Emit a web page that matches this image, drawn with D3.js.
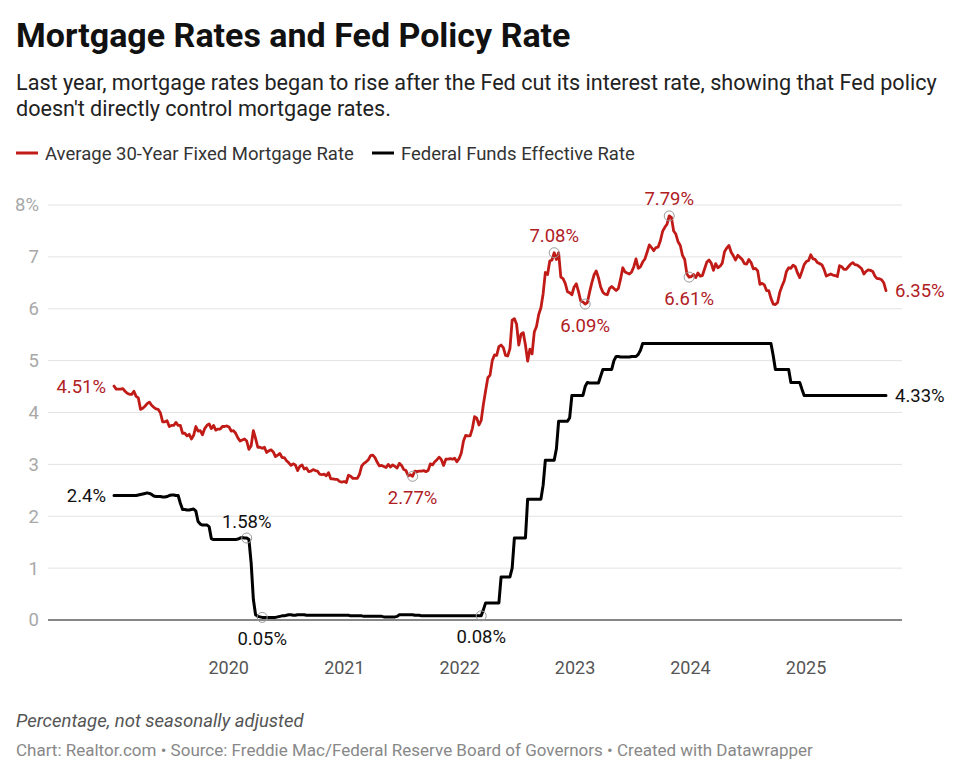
<!DOCTYPE html>
<html>
<head>
<meta charset="utf-8">
<script src="https://cdn.jsdelivr.net/npm/d3@7"></script>
<style>
  body { margin: 0; background: #fff; }
  svg { display: block; font-family: Roboto, "Noto Sans", sans-serif; }
</style>
</head>
<body>
<svg id="chart" width="960" height="776"></svg>
<script>
// weekly readings (Thursdays), first week is 2019-01-03
const START_WEEK = "2019-01-03";

// Average 30-Year Fixed Mortgage Rate, one array per year
const MORTGAGE_2019 = [4.51,4.45,4.45,4.45,4.46, 4.41,4.37,4.35,4.35, 4.41,4.31,4.28,4.06, 4.08,4.12,4.17,4.20,
  4.14,4.10,4.07,4.06,3.99, 3.82,3.82,3.84,3.73, 3.75,3.75,3.81,3.75, 3.75,3.60,3.60,3.55,3.58,
  3.49,3.56,3.73,3.64, 3.65,3.57,3.69,3.75,3.78, 3.69,3.75,3.66,3.68, 3.68,3.73,3.73,3.74];
const MORTGAGE_2020 = [3.72,3.64,3.65,3.60,3.51, 3.45,3.47,3.49,3.45, 3.29,3.36,3.65,3.50, 3.33,3.33,3.31,3.33,3.23,
  3.26,3.28,3.24,3.15, 3.18,3.21,3.13,3.13, 3.07,3.03,2.98,3.01,2.99, 2.88,2.96,2.99,2.91,
  2.93,2.86,2.87,2.90, 2.88,2.87,2.81,2.80,2.81, 2.78,2.84,2.72,2.72, 2.71,2.71,2.67,2.66,2.67];
const MORTGAGE_2021 = [2.65,2.79,2.77,2.73, 2.73,2.73,2.81,2.97, 3.02,3.05,3.09,3.17, 3.18,3.13,3.04,2.97,2.98,
  2.96,2.94,3.00,2.95, 2.99,2.96,2.93,3.02, 2.98,2.90,2.88,2.78,2.80, 2.77,2.87,2.86,2.87,
  2.87,2.88,2.86,2.88,3.01, 2.99,3.05,3.09,3.14, 3.09,2.98,3.10,3.10, 3.11,3.10,3.12,3.05,3.11];
const MORTGAGE_2022 = [3.22,3.45,3.56,3.55, 3.55,3.69,3.92,3.89, 3.76,3.85,4.16,4.42,4.67, 4.72,5.00,5.11,5.10,
  5.27,5.30,5.25,5.10, 5.09,5.23,5.78,5.81,5.70, 5.30,5.51,5.54,5.30, 4.99,5.22,5.13,5.55,
  5.66,5.89,6.02,6.29,6.70, 6.66,6.92,6.94,7.08, 6.95,7.08,6.61,6.58, 6.49,6.33,6.31,6.27,6.42];
const MORTGAGE_2023 = [6.48,6.33,6.15,6.13, 6.09,6.12,6.32,6.50, 6.65,6.73,6.60,6.42,6.32, 6.28,6.27,6.39,6.43,
  6.39,6.35,6.39,6.57, 6.79,6.71,6.69,6.67,6.71, 6.81,6.96,6.78,6.81, 6.90,6.96,7.09,7.23,7.18,
  7.12,7.18,7.19,7.31, 7.49,7.57,7.63,7.79, 7.76,7.50,7.44,7.29,7.22, 7.03,6.95,6.67,6.61];
const MORTGAGE_2024 = [6.62,6.66,6.60,6.69, 6.63,6.64,6.77,6.90,6.94, 6.88,6.74,6.87,6.79, 6.82,6.88,7.10,7.17,
  7.22,7.09,7.02,6.94,7.03, 6.99,6.95,6.87,6.86, 6.95,6.89,6.77,6.78, 6.73,6.47,6.49,6.46,6.35,
  6.35,6.20,6.09,6.08, 6.12,6.32,6.44,6.54,6.72, 6.79,6.78,6.84,6.81, 6.69,6.60,6.72,6.85];
const MORTGAGE_2025 = [6.91,6.93,7.04,6.96,6.95, 6.89,6.87,6.85,6.76, 6.63,6.65,6.67,6.65, 6.64,6.62,6.83,6.81,
  6.76,6.76,6.81,6.86,6.89, 6.85,6.84,6.81,6.77, 6.67,6.72,6.75,6.74,6.72, 6.63,6.58,6.58,6.56,
  6.50,6.35];

// Federal Funds Effective Rate, same weeks
const FED_2019 = [2.40,2.40,2.40,2.40,2.40, 2.40,2.40,2.40,2.40, 2.40,2.40,2.41,2.42, 2.43,2.44,2.45,2.44,
  2.42,2.39,2.38,2.38,2.38, 2.37,2.37,2.38,2.40, 2.41,2.41,2.40,2.40, 2.25,2.13,2.13,2.12,2.12,
  2.13,2.14,2.10,1.90, 1.85,1.83,1.83,1.83,1.80, 1.57,1.55,1.55,1.55, 1.55,1.55,1.55,1.55];
const FED_2020 = [1.55,1.55,1.55,1.55,1.56, 1.58,1.59,1.58,1.58, 1.55,1.10,0.40,0.10, 0.07,0.06,0.05,0.05,0.05,
  0.05,0.05,0.05,0.05, 0.06,0.07,0.08,0.08, 0.09,0.10,0.10,0.09,0.09, 0.10,0.10,0.10,0.10,
  0.09,0.09,0.09,0.09, 0.09,0.09,0.09,0.09,0.09, 0.09,0.09,0.09,0.09, 0.09,0.09,0.09,0.09,0.09];
const FED_2021 = [0.09,0.09,0.08,0.08, 0.08,0.08,0.08,0.08, 0.07,0.07,0.07,0.07, 0.07,0.07,0.07,0.07,0.07,
  0.06,0.06,0.06,0.06, 0.06,0.06,0.07,0.10, 0.10,0.10,0.10,0.10,0.10, 0.10,0.09,0.09,0.09,
  0.08,0.08,0.08,0.08,0.08, 0.08,0.08,0.08,0.08, 0.08,0.08,0.08,0.08, 0.08,0.08,0.08,0.08,0.08];
const FED_2022 = [0.08,0.08,0.08,0.08, 0.08,0.08,0.08,0.08, 0.08,0.08,0.20,0.33,0.33, 0.33,0.33,0.33,0.33,
  0.33,0.83,0.83,0.83, 0.83,0.83,1.00,1.58,1.58, 1.58,1.58,1.58,1.58, 2.33,2.33,2.33,2.33,
  2.33,2.33,2.33,2.60,3.08, 3.08,3.08,3.08,3.08, 3.30,3.83,3.83,3.83, 3.83,3.83,3.90,4.33,4.33];
const FED_2023 = [4.33,4.33,4.33,4.33, 4.50,4.58,4.57,4.57, 4.57,4.57,4.57,4.70,4.83, 4.83,4.83,4.83,4.83,
  5.00,5.08,5.08,5.07, 5.07,5.07,5.07,5.07,5.08, 5.08,5.08,5.12,5.20, 5.33,5.33,5.33,5.33,5.33,
  5.33,5.33,5.33,5.33, 5.33,5.33,5.33,5.33, 5.33,5.33,5.33,5.33,5.33, 5.33,5.33,5.33,5.33];
const FED_2024 = [5.33,5.33,5.33,5.33, 5.33,5.33,5.33,5.33,5.33, 5.33,5.33,5.33,5.33, 5.33,5.33,5.33,5.33,
  5.33,5.33,5.33,5.33,5.33, 5.33,5.33,5.33,5.33, 5.33,5.33,5.33,5.33, 5.33,5.33,5.33,5.33,5.33,
  5.33,5.33,5.10,4.83, 4.83,4.83,4.83,4.83,4.83, 4.83,4.58,4.58,4.58, 4.58,4.58,4.45,4.33];
const FED_2025 = [4.33,4.33,4.33,4.33,4.33, 4.33,4.33,4.33,4.33, 4.33,4.33,4.33,4.33, 4.33,4.33,4.33,4.33,
  4.33,4.33,4.33,4.33,4.33, 4.33,4.33,4.33,4.33, 4.33,4.33,4.33,4.33,4.33, 4.33,4.33,4.33,4.33,
  4.33,4.33];

const Y_TICKS = [0, 1, 2, 3, 4, 5, 6, 7, 8];
const YEAR_TICKS = ["2020", "2021", "2022", "2023", "2024", "2025"];

// labelled points: week, where the label goes
const MORTGAGE_NOTES = [
  ["2019-01-03", "left"], ["2021-08-05", "below"], ["2022-10-27", "above"],
  ["2023-02-02", "below"], ["2023-10-26", "above"], ["2023-12-28", "below"], ["2025-09-11", "right"]
];
const FED_NOTES = [
  ["2019-01-03", "left"], ["2020-02-27", "above"], ["2020-04-16", "below"],
  ["2022-03-10", "below"], ["2025-09-11", "right"]
];

const RED = "#c11b17";
const RED_TEXT = "#b0201f";

const parse = d3.utcParse("%Y-%m-%d");
const fmt = d3.utcFormat("%Y-%m-%d");

const mortgage = [].concat(MORTGAGE_2019, MORTGAGE_2020, MORTGAGE_2021, MORTGAGE_2022,
  MORTGAGE_2023, MORTGAGE_2024, MORTGAGE_2025);
const fed = [].concat(FED_2019, FED_2020, FED_2021, FED_2022, FED_2023, FED_2024, FED_2025);

const start = parse(START_WEEK);
const weeks = d3.range(mortgage.length).map(i => d3.utcDay.offset(start, i * 7));

const svg = d3.select("#chart");

// header
svg.append("text")
  .attr("x", 16).attr("y", 47)
  .attr("font-size", 34).attr("font-weight", 700).attr("fill", "#111")
  .text("Mortgage Rates and Fed Policy Rate");

const sub = svg.append("text").attr("font-size", 21.6).attr("fill", "#222");
sub.append("tspan").attr("x", 16).attr("y", 90)
  .text("Last year, mortgage rates began to rise after the Fed cut its interest rate, showing that Fed policy");
sub.append("tspan").attr("x", 16).attr("y", 116)
  .text("doesn't directly control mortgage rates.");

// legend
const legend = svg.append("g").attr("font-size", 18.5).attr("fill", "#333");
[["Average 30-Year Fixed Mortgage Rate", RED, 16], ["Federal Funds Effective Rate", "#000", 372]]
  .forEach(([name, col, lx]) => {
    legend.append("line")
      .attr("x1", lx).attr("x2", lx + 22).attr("y1", 153).attr("y2", 153)
      .attr("stroke", col).attr("stroke-width", 3);
    legend.append("text").attr("x", lx + 29).attr("y", 159.5).text(name);
  });

// scales
const x = d3.scaleUtc()
  .domain([weeks[0], weeks[weeks.length - 1]])
  .range([114, 886]);
const y = d3.scaleLinear().domain([0, 8]).range([620, 205]);

const gridLeft = 48, gridRight = 902;

// grid and y labels
const yAxis = svg.append("g");
yAxis.selectAll("line")
  .data(Y_TICKS.filter(d => d > 0))
  .join("line")
  .attr("x1", gridLeft).attr("x2", gridRight)
  .attr("y1", d => y(d)).attr("y2", d => y(d))
  .attr("stroke", "#e3e3e3").attr("stroke-width", 1);
yAxis.selectAll("text")
  .data(Y_TICKS)
  .join("text")
  .attr("x", 39).attr("y", d => y(d)).attr("dy", "0.35em")
  .attr("text-anchor", "end").attr("font-size", 18.5).attr("fill", "#a8a8a8")
  .text(d => d === 8 ? d + "%" : d);

// baseline
svg.append("line")
  .attr("x1", gridLeft).attr("x2", gridRight)
  .attr("y1", y(0)).attr("y2", y(0))
  .attr("stroke", "#111").attr("stroke-width", 1.2);

// year labels
svg.append("g").selectAll("text")
  .data(YEAR_TICKS)
  .join("text")
  .attr("x", d => x(parse(d + "-01-01")))
  .attr("y", 668).attr("dy", "0.35em")
  .attr("text-anchor", "middle").attr("font-size", 18).attr("fill", "#555")
  .text(d => d);

// lines
const line = values => d3.line()
  .x((d, i) => x(weeks[i]))
  .y(d => y(d))
  .curve(d3.curveLinear)(values);

svg.append("path").attr("d", line(fed))
  .attr("fill", "none").attr("stroke", "#000").attr("stroke-width", 3)
  .attr("stroke-linejoin", "round").attr("stroke-linecap", "round");
svg.append("path").attr("d", line(mortgage))
  .attr("fill", "none").attr("stroke", RED).attr("stroke-width", 2.8)
  .attr("stroke-linejoin", "round").attr("stroke-linecap", "round");

// annotations
function annotate(notes, values, col) {
  const g = svg.append("g").attr("font-size", 18.5).attr("fill", col);
  notes.forEach(([wk, pos]) => {
    const i = weeks.findIndex(w => fmt(w) === wk);
    const v = values[i];
    const px = x(weeks[i]), py = y(v);
    const label = (Math.round(v * 100) / 100) + "%";
    if (pos === "above" || pos === "below") {
      g.append("circle").attr("cx", px).attr("cy", py).attr("r", 5)
        .attr("fill", "none").attr("stroke", "#9a9a9a").attr("stroke-width", 1);
    }
    const t = g.append("text").text(label).attr("dy", "0.35em");
    if (pos === "left") t.attr("x", px - 8).attr("y", py).attr("text-anchor", "end");
    if (pos === "right") t.attr("x", px + 9).attr("y", py).attr("text-anchor", "start");
    if (pos === "above") t.attr("x", px).attr("y", py - 17).attr("text-anchor", "middle");
    if (pos === "below") t.attr("x", px).attr("y", py + 21).attr("text-anchor", "middle");
  });
}
annotate(MORTGAGE_NOTES, mortgage, RED_TEXT);
annotate(FED_NOTES, fed, "#111");

// footer
svg.append("text")
  .attr("x", 16).attr("y", 727)
  .attr("font-size", 18.5).attr("font-style", "italic").attr("fill", "#555")
  .text("Percentage, not seasonally adjusted");
svg.append("text")
  .attr("x", 16).attr("y", 756)
  .attr("font-size", 17).attr("fill", "#888")
  .text("Chart: Realtor.com \u2022 Source: Freddie Mac/Federal Reserve Board of Governors  \u2022 Created with Datawrapper");
</script>
</body>
</html>
